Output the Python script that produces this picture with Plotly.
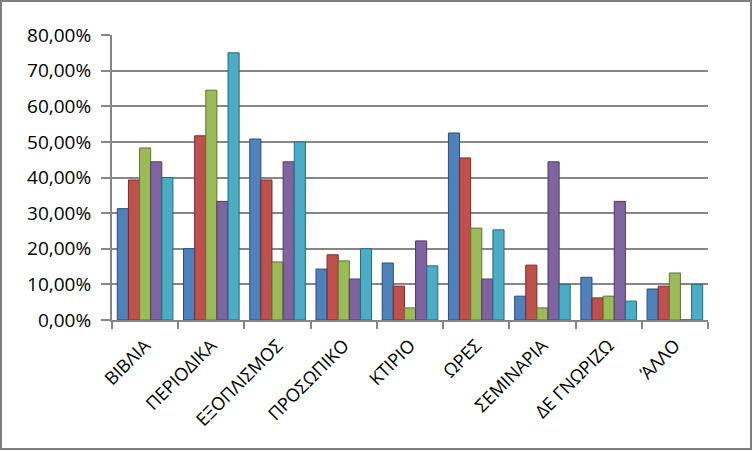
import plotly.graph_objects as go

categories = ["ΒΙΒΛΙΑ", "ΠΕΡΙΟΔΙΚΑ", "ΕΞΟΠΛΙΣΜΟΣ", "ΠΡΟΣΩΠΙΚΟ", "ΚΤΙΡΙΟ",
              "ΩΡΕΣ", "ΣΕΜΙΝΑΡΙΑ", "ΔΕ ΓΝΩΡΙΖΩ", "ΆΛΛΟ"]
series_names = ["Σειρά 1", "Σειρά 2", "Σειρά 3", "Σειρά 4", "Σειρά 5"]
s1 = [0.3125, 0.20, 0.508, 0.143, 0.16, 0.525, 0.067, 0.12, 0.087]
s2 = [0.393, 0.517, 0.393, 0.183, 0.095, 0.455, 0.154, 0.062, 0.095]
s3 = [0.483, 0.645, 0.163, 0.166, 0.034, 0.258, 0.034, 0.067, 0.132]
s4 = [0.444, 0.333, 0.444, 0.115, 0.222, 0.115, 0.444, 0.333, 0.0]
s5 = [0.40, 0.75, 0.50, 0.20, 0.152, 0.253, 0.10, 0.053, 0.10]
series_values = [s1, s2, s3, s4, s5]
colors = ["#4F81BD", "#C0504D", "#9BBB59", "#8064A2", "#4BACC6"]
edge_colors = ["#2C4D75", "#772C2A", "#5F7530", "#4D3B62", "#276A7C"]

W, H = 753, 451
ml, mr, mt, mb = 112, 45, 35, 131

fig = go.Figure()
for name, vals, c, e in zip(series_names, series_values, colors, edge_colors):
    fig.add_trace(go.Bar(x=categories, y=vals, name=name,
                         marker=dict(color=c, line=dict(color=e, width=1))))

font = "Open Sans, DejaVu Sans, sans-serif"
fig.update_layout(
    width=W, height=H,
    margin=dict(l=ml, r=mr, t=mt, b=mb),
    paper_bgcolor="white", plot_bgcolor="white",
    showlegend=False,
    barmode="group", bargap=0.16, bargroupgap=0.0,
    separators=",.",
    font=dict(family=font, size=18, color="black"),
    xaxis=dict(tickangle=-45, showline=True, linecolor="#868686", linewidth=2,
               ticks="outside", tickson="boundaries", ticklen=7,
               tickcolor="#868686", tickwidth=2, showgrid=False,
               ticklabelstandoff=6,
               tickfont=dict(family=font, size=18)),
    yaxis=dict(range=[0, 0.8], dtick=0.1, tickformat=".2%",
               showline=True, linecolor="#868686", linewidth=2,
               ticks="outside", ticklen=9, tickcolor="#868686", tickwidth=2,
               gridcolor="#868686", gridwidth=2, zeroline=False,
               ticklabelstandoff=6,
               tickfont=dict(family=font, size=19)),
)
# outer chart border
fig.add_shape(type="rect", xref="paper", yref="paper",
              x0=-(ml - 1) / (W - ml - mr), x1=1 + (mr - 2) / (W - ml - mr),
              y0=-(mb - 2) / (H - mt - mb), y1=1 + (mt - 1) / (H - mt - mb),
              line=dict(color="#7F7F7F", width=2), layer="below")

fig.write_html("out.html")
